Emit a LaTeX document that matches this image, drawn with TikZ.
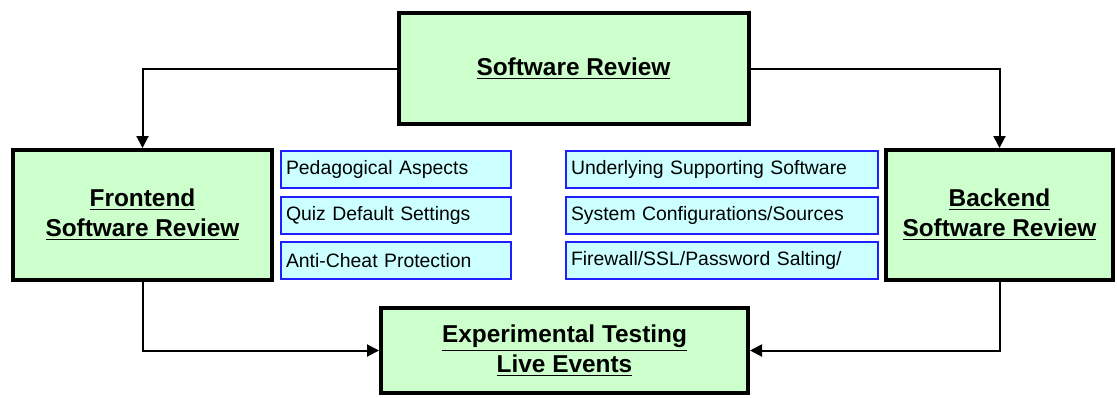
\documentclass[tikz,border=0pt]{standalone}
\usepackage{fontspec}
\setmainfont{Liberation Sans}
\usetikzlibrary{arrows.meta}
\definecolor{boxgreen}{HTML}{CCFFCC}
\definecolor{boxcyan}{HTML}{CCFFFF}
\definecolor{boxblue}{HTML}{1F1FFF}

\begin{document}
\begin{tikzpicture}[x=0.5pt,y=-0.5pt,
  stage/.style={draw=black,line width=2pt,fill=boxgreen,align=center,inner sep=0pt,
    font=\fontsize{12.2}{15}\selectfont\bfseries},
  item/.style={draw=boxblue,line width=1pt,fill=boxcyan,anchor=west,inner xsep=2.5pt,
    inner ysep=0pt,minimum height=18.5pt,align=left,font=\fontsize{9.7}{11}\selectfont},
  flow/.style={line width=1pt,-{Triangle[length=6pt,width=6pt]}}]
\useasboundingbox (0,0) rectangle (1117,397);
% review stages
\node[stage,minimum width=175pt,minimum height=55.5pt] (review) at (573.5,68.5) {\underline{Software Review}};
\node[stage,minimum width=129.5pt,minimum height=65pt] (frontend) at (142.5,215) {\underline{Frontend}\\\underline{Software Review}};
\node[stage,minimum width=113.5pt,minimum height=65pt] (backend) at (999.5,215) {\underline{Backend}\\\underline{Software Review}};
\node[stage,minimum width=183.5pt,minimum height=42.5pt] (testing) at (564.5,350.5) {\underline{Experimental Testing}\\\underline{Live Events}};
% frontend items
\node[item,text width=110pt] (fe1) at (280,169.5) {Pedagogical Aspects};
\node[item,text width=110pt] (fe2) at (280,215) {Quiz Default Settings};
\node[item,text width=110pt] (fe3) at (280,260.5) {Anti-Cheat Protection};
% backend items
\node[item,text width=151pt] (be1) at (565,169.5) {Underlying Supporting Software};
\node[item,text width=151pt] (be2) at (565,215) {System Configurations/Sources};
\node[item,text width=151pt] (be3) at (565,260.5) {Firewall/SSL/Password Salting/};
% connectors
\draw[flow] (review.west) -| (frontend.north);
\draw[flow] (review.east) -| (backend.north);
\draw[flow] (frontend.south) |- (testing.west);
\draw[flow] (backend.south) |- (testing.east);
\end{tikzpicture}
\end{document}
